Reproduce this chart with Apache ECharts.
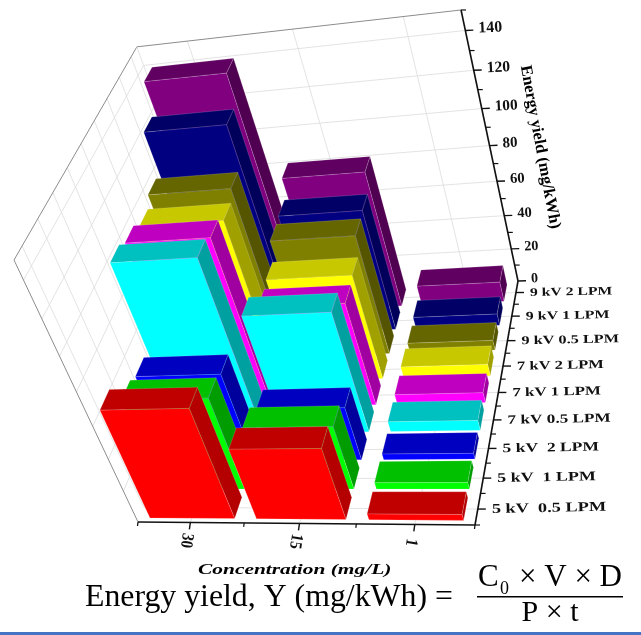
<!DOCTYPE html>
<html>
<head>
<meta charset="utf-8">
<style>html,body{margin:0;padding:0;background:#fff}#c{width:641px;height:635px}</style>
<script src="https://cdn.jsdelivr.net/npm/echarts@6/dist/echarts.min.js"></script>
</head>
<body>
<div id="c"></div>
<script>
// ---- data ----
const concentrations = ['30', '15', '1'];
const conditions = ['5 kV  0.5 LPM', '5 kV  1 LPM', '5 kV  2 LPM', '7 kV 0.5 LPM', '7 kV 1 LPM', '7 kV 2 LPM', '9 kV 0.5 LPM', '9 kV 1 LPM', '9 kV 2 LPM'];
const yield30 = [67, 56, 53.5, 104, 101, 97, 101.5, 124, 140];
const yield15 = [43, 38, 32, 71, 61, 62.5, 71, 72, 81];
const yield1 = [3.6, 4, 3.5, 6, 6, 7, 6, 7, 12];
const valueTicks = [0, 20, 40, 60, 80, 100, 120, 140];
const valueMinorTicks = [10, 30, 50, 70, 90, 110, 130, 150];
const valueMax = 150;
const yieldColumns = [yield30, yield15, yield1];

// front, top, side colours per condition
const faceColors = [
  ['#ff0000', '#c00000', '#b40000'],
  ['#00ff00', '#00c000', '#009c00'],
  ['#0000ff', '#0000c0', '#00009c'],
  ['#00ffff', '#00c0c0', '#00a0a0'],
  ['#ff00ff', '#c000c0', '#a000a0'],
  ['#ffff00', '#c8c800', '#a0a000'],
  ['#808000', '#666600', '#555500'],
  ['#000080', '#000066', '#00005a'],
  ['#800080', '#600060', '#500050']
];

// ---- projection of the 3D box onto the picture plane ----
const PA = -0.08, PB = 0.174, PC = -0.138;
const corner = { O: [138, 522], FR: [475, 525], BR: [518, 281], TFL: [14, 260] };
const A1 = [0, 1].map(k => corner.FR[k] * (1 + PA) - corner.O[k]);
const A2 = [0, 1].map(k => corner.BR[k] * (1 + PA + PB) - corner.FR[k] * (1 + PA));
const A3 = [0, 1].map(k => corner.TFL[k] * (1 + PC) - corner.O[k]);
function weight(x, y, z) { return 1 + PA * x + PB * y + PC * z; }
function project(x, y, z) {
  const w = weight(x, y, z);
  return [0, 1].map(k => (corner.O[k] + A1[k] * x + A2[k] * y + A3[k] * z) / w);
}

const BAR_W = 0.8 / concentrations.length;
const BAR_D = 0.72 / conditions.length;

// bars painted column by column, back to front
const barData = [];
concentrations.forEach((c, col) => {
  for (let row = conditions.length - 1; row >= 0; row--) {
    barData.push([col, row, yieldColumns[col][row]]);
  }
});

function renderBar(params, api) {
  const col = api.value(0), row = api.value(1), v = api.value(2) / valueMax;
  const cx = (col + 0.5) / concentrations.length, cy = (row + 0.5) / conditions.length;
  const x0 = cx - BAR_W / 2, x1 = cx + BAR_W / 2, y0 = cy - BAR_D / 2, y1 = cy + BAR_D / 2;
  const pts = list => list.map(p => api.coord(project(p[0], p[1], p[2])));
  const c = faceColors[row];
  const edge = 'rgba(255,255,255,0.22)';
  const poly = (list, fill) => ({ type: 'polygon', shape: { points: pts(list) }, style: { fill, stroke: edge, lineWidth: 0.7 } });
  return {
    type: 'group',
    children: [
      poly([[x1, y0, 0], [x1, y1, 0], [x1, y1, v], [x1, y0, v]], c[2]),
      poly([[x0, y0, v], [x1, y0, v], [x1, y1, v], [x0, y1, v]], c[1]),
      poly([[x0, y0, 0], [x1, y0, 0], [x1, y0, v], [x0, y0, v]], c[0])
    ]
  };
}

function renderFrame(params, api) {
  const children = [];
  const line = (a, b, stroke, lineWidth) => {
    const p = api.coord(project(a[0], a[1], a[2])), q = api.coord(project(b[0], b[1], b[2]));
    children.push({ type: 'line', shape: { x1: p[0], y1: p[1], x2: q[0], y2: q[1] }, style: { stroke, lineWidth } });
  };
  const g = '#dcdcdc';
  valueTicks.slice(1).forEach(t => {
    const z = t / valueMax;
    line([0, 0, z], [0, 1, z], g, 0.8);
    line([0, 1, z], [1, 1, z], g, 0.8);
  });
  concentrations.forEach((c, i) => {
    const x = (i + 0.5) / concentrations.length;
    line([x, 1, 0], [x, 1, 1], g, 0.8);
    line([x, 0, 0], [x, 1, 0], g, 0.8);
  });
  conditions.forEach((c, i) => {
    const y = (i + 0.5) / conditions.length;
    line([0, y, 0], [0, y, 1], g, 0.8);
    line([0, y, 0], [1, y, 0], g, 0.8);
  });
  const e = '#8c8c8c';
  line([0, 0, 0], [0, 0, 1], e, 1);
  line([0, 0, 1], [0, 1, 1], e, 1);
  line([0, 1, 1], [1, 1, 1], e, 1);
  line([0, 1, 0], [0, 1, 1], g, 0.8);
  return { type: 'group', children };
}

function renderAxes(params, api) {
  const children = [];
  const K = '#111';
  const seg = (p, q, lw) => children.push({ type: 'line', shape: { x1: p[0], y1: p[1], x2: q[0], y2: q[1] }, style: { stroke: K, lineWidth: lw } });
  const P = (x, y, z) => api.coord(project(x, y, z));
  const label = (text, x, y, size, rotation, sx, sy, align) => children.push({
    type: 'text', x, y, rotation, scaleX: sx, scaleY: sy,
    style: { text, fill: K, font: 'bold ' + size + 'px "Liberation Serif"', align, textAlign: align, verticalAlign: 'middle', textVerticalAlign: 'middle' }
  });

  seg(P(0, 0, 0), P(1, 0, 0), 1.6);
  seg(P(1, 0, 0), P(1, 1, 0), 1.6);
  seg(P(1, 1, 0), P(1, 1, 1), 1.6);

  // value axis
  valueTicks.forEach(t => {
    const z = t / valueMax, p = P(1, 1, z);
    seg(p, [p[0] + 8, p[1] - 0.3], 1.4);
    label(String(t), p[0] + 13, p[1] - 2, 15.3 / weight(1, 1, z), 0.05, 1, 1, 'left');
  });
  valueMinorTicks.forEach(t => {
    const p = P(1, 1, t / valueMax);
    seg(p, [p[0] + 5, p[1]], 1.2);
  });

  // condition axis
  conditions.forEach((name, i) => {
    const y = (i + 0.5) / conditions.length, p = P(1, y, 0);
    seg(p, [p[0] + 8, p[1]], 1.4);
    label(name, p[0] + 14, p[1] + 0.5, 12.6 / weight(1, y, 0), 0.02, 1.35, 1, 'left');
    const m = P(1, i / conditions.length, 0);
    seg(m, [m[0] + 5, m[1]], 1.2);
  });

  // concentration axis
  concentrations.forEach((name, i) => {
    const p = P((i + 0.5) / concentrations.length, 0, 0);
    seg(p, [p[0] - 1, p[1] + 7], 1.4);
    label(name, p[0] - 4, p[1] + 18, 15, -1.72, 1, 1.15, 'center');
    const m = P(i / concentrations.length, 0, 0);
    seg(m, [m[0] - 0.5, m[1] + 4], 1.2);
  });
  const end = P(1, 0, 0);
  seg(end, [end[0] - 0.5, end[1] + 4], 1.2);
  return { type: 'group', children };
}

const serif = '"Liberation Serif"';

const option = {
  animation: false,
  grid: { left: 0, right: 0, top: 0, bottom: 0 },
  xAxis: { type: 'value', min: 0, max: 641, show: false },
  yAxis: { type: 'value', min: 0, max: 635, inverse: true, show: false },
  graphic: [
    { type: 'text', x: 540, y: 147, rotation: -1.387, silent: true,
      style: { text: 'Energy yield (mg/kWh)', font: 'bold 16.5px ' + serif, fill: '#000', align: 'center', textAlign: 'center', verticalAlign: 'middle', textVerticalAlign: 'middle' } },
    { type: 'text', x: 198, y: 570, scaleX: 1.53, silent: true,
      style: { text: 'Concentration (mg/L)', font: 'italic bold 14px ' + serif, fill: '#000', align: 'left', textAlign: 'left', verticalAlign: 'middle', textVerticalAlign: 'middle' } },
    { type: 'text', x: 85, y: 598, silent: true,
      style: { text: 'Energy yield, Y (mg/kWh) =', font: '31.8px ' + serif, fill: '#000', align: 'left', textAlign: 'left', verticalAlign: 'middle', textVerticalAlign: 'middle' } },
    { type: 'text', x: 478, y: 578, silent: true,
      style: { text: 'C', font: '31px ' + serif, fill: '#000', align: 'left', textAlign: 'left', verticalAlign: 'middle', textVerticalAlign: 'middle' } },
    { type: 'text', x: 500, y: 589, silent: true,
      style: { text: '0', font: '18px ' + serif, fill: '#000', align: 'left', textAlign: 'left', verticalAlign: 'middle', textVerticalAlign: 'middle' } },
    { type: 'text', x: 622, y: 578, silent: true,
      style: { text: '× V × D', font: '31px ' + serif, fill: '#000', align: 'right', textAlign: 'right', verticalAlign: 'middle', textVerticalAlign: 'middle' } },
    { type: 'text', x: 550, y: 613, silent: true,
      style: { text: 'P × t', font: '30px ' + serif, fill: '#000', align: 'center', textAlign: 'center', verticalAlign: 'middle', textVerticalAlign: 'middle' } },
    { type: 'rect', silent: true, shape: { x: 477, y: 596, width: 146, height: 1.6 }, style: { fill: '#000' } },
    { type: 'rect', silent: true, shape: { x: 0, y: 632, width: 641, height: 3 }, style: { fill: '#4472c4' } }
  ],
  series: [
    { type: 'custom', data: [[0, 0]], renderItem: renderFrame, silent: true, clip: false, z: 1 },
    { type: 'custom', data: barData, renderItem: renderBar, silent: true, clip: false, z: 2, encode: { x: 0, y: 1 } },
    { type: 'custom', data: [[0, 0]], renderItem: renderAxes, silent: true, clip: false, z: 3 }
  ]
};
echarts.init(document.getElementById('c'), null, { renderer: 'canvas' }).setOption(option);
</script>
</body>
</html>
